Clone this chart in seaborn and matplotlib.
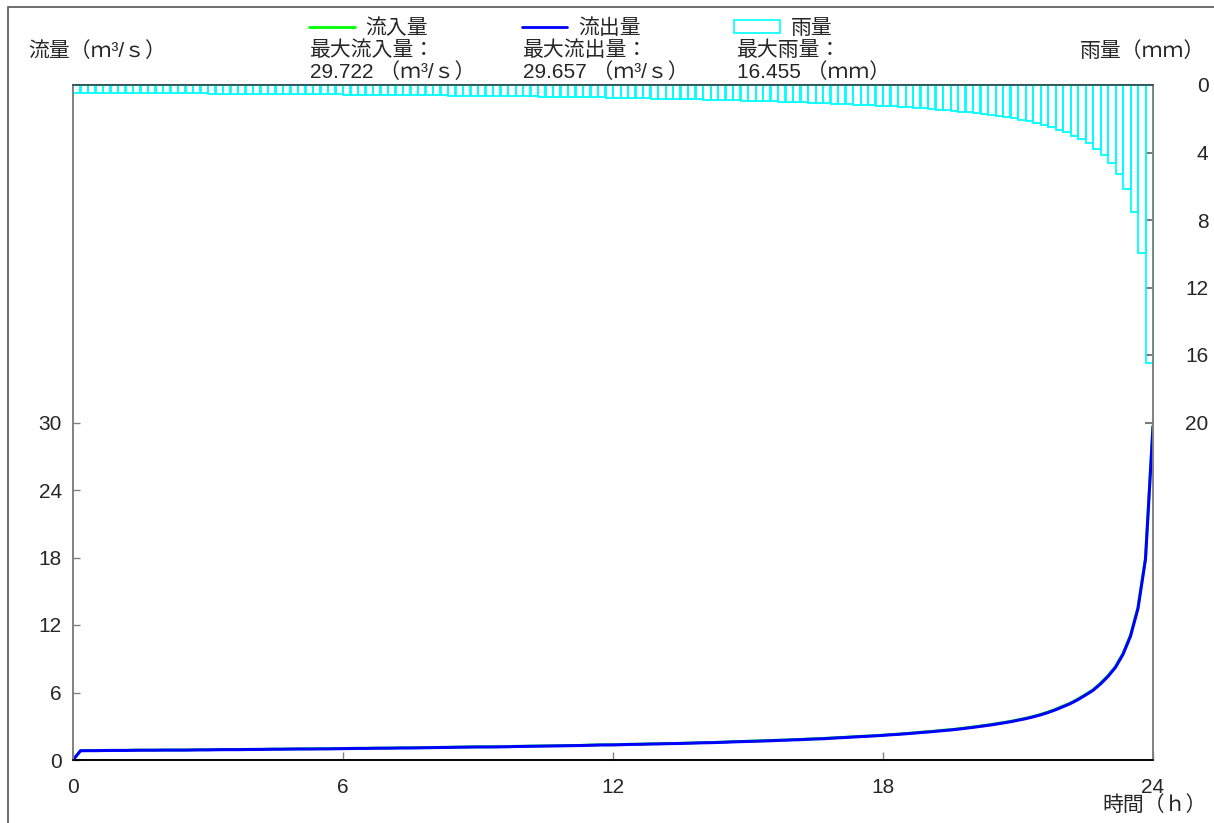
import numpy as np
import pandas as pd
import seaborn as sns
import matplotlib.pyplot as plt
from matplotlib.lines import Line2D
from matplotlib.patches import Rectangle

# rainfall per 10 min step (mm), 144 steps over 24 h
rain_mm = [0.46, 0.46, 0.46, 0.47, 0.47, 0.47, 0.47, 0.48, 0.48, 0.48, 0.48, 0.49, 0.49, 0.49,
           0.49, 0.50, 0.50, 0.50, 0.51, 0.51, 0.51, 0.51, 0.52, 0.52,
           0.52, 0.53, 0.53, 0.53, 0.54, 0.54, 0.54, 0.55, 0.55, 0.55,
           0.56, 0.56, 0.57, 0.57, 0.57, 0.58, 0.58, 0.58, 0.59, 0.59,
           0.60, 0.60, 0.61, 0.61, 0.62, 0.62, 0.63, 0.63, 0.64, 0.64,
           0.64, 0.65, 0.65, 0.66, 0.67, 0.67, 0.68, 0.68, 0.69, 0.70,
           0.70, 0.71, 0.71, 0.72, 0.73, 0.74, 0.74, 0.75, 0.76, 0.77,
           0.77, 0.78, 0.79, 0.80, 0.81, 0.81, 0.82, 0.83, 0.84, 0.85,
           0.86, 0.87, 0.88, 0.90, 0.91, 0.92, 0.93, 0.94, 0.96, 0.97,
           0.98, 1.00, 1.01, 1.03, 1.04, 1.06, 1.08, 1.10, 1.12, 1.14,
           1.16, 1.18, 1.20, 1.22, 1.25, 1.27, 1.30, 1.33, 1.36, 1.39,
           1.42, 1.46, 1.49, 1.53, 1.58, 1.62, 1.67, 1.72, 1.78, 1.84,
           1.90, 1.97, 2.05, 2.14,
           2.24, 2.36, 2.49, 2.65, 2.80, 3.00, 3.22, 3.45, 3.78, 4.15, 4.60, 5.25, 6.15, 7.52, 9.95, 16.455]

# flows (m3/s) at t = 0, 10, 20 ... 1440 min
inflow = [0.0,
          0.84, 0.84, 0.84, 0.86, 0.86, 0.86, 0.86, 0.88, 0.88, 0.88, 0.88, 0.89, 0.89, 0.89,
          0.89, 0.91, 0.91, 0.91, 0.93, 0.93, 0.93, 0.93, 0.95, 0.95,
          0.95, 0.97, 0.97, 0.97, 0.99, 0.99, 0.99, 1.00, 1.00, 1.00,
          1.02, 1.02, 1.04, 1.04, 1.04, 1.06, 1.06, 1.06, 1.08, 1.08,
          1.09, 1.09, 1.11, 1.11, 1.13, 1.13, 1.15, 1.15, 1.17, 1.17,
          1.17, 1.18, 1.18, 1.20, 1.22, 1.22, 1.24, 1.24, 1.26, 1.27,
          1.27, 1.29, 1.29, 1.31, 1.33, 1.35, 1.35, 1.36, 1.38, 1.40,
          1.40, 1.42, 1.44, 1.45, 1.47, 1.47, 1.49, 1.51, 1.53, 1.55,
          1.56, 1.58, 1.60, 1.64, 1.65, 1.67, 1.69, 1.71, 1.74, 1.76,
          1.78, 1.82, 1.83, 1.87, 1.89, 1.92, 1.96, 2.00, 2.03, 2.07,
          2.10, 2.14, 2.18, 2.21, 2.27, 2.30, 2.36, 2.41, 2.47, 2.52,
          2.57, 2.65, 2.70, 2.77, 2.86, 2.94, 3.03, 3.12, 3.22, 3.33,
          3.44, 3.57, 3.71, 3.87,
          4.06, 4.27, 4.51, 4.80, 5.07, 5.43, 5.83, 6.24, 6.84, 7.50, 8.32, 9.49, 11.12, 13.59, 17.98, 29.722]

outflow = [0.0,
           0.82, 0.83, 0.83, 0.84, 0.85, 0.85, 0.85, 0.86, 0.87, 0.87, 0.87, 0.88, 0.88, 0.88,
           0.88, 0.89, 0.90, 0.90, 0.91, 0.92, 0.92, 0.92, 0.93, 0.94,
           0.94, 0.95, 0.96, 0.96, 0.97, 0.98, 0.98, 0.98, 0.99, 0.99,
           1.00, 1.01, 1.02, 1.03, 1.03, 1.04, 1.05, 1.05, 1.06, 1.07,
           1.07, 1.08, 1.09, 1.10, 1.11, 1.12, 1.13, 1.14, 1.15, 1.16,
           1.16, 1.16, 1.17, 1.18, 1.20, 1.21, 1.22, 1.23, 1.24, 1.25,
           1.26, 1.27, 1.28, 1.29, 1.31, 1.33, 1.34, 1.34, 1.36, 1.38,
           1.39, 1.40, 1.42, 1.43, 1.45, 1.46, 1.47, 1.49, 1.51, 1.53,
           1.54, 1.56, 1.58, 1.61, 1.63, 1.65, 1.67, 1.69, 1.71, 1.74,
           1.76, 1.79, 1.81, 1.84, 1.87, 1.89, 1.93, 1.97, 2.00, 2.04,
           2.08, 2.11, 2.15, 2.19, 2.24, 2.28, 2.33, 2.38, 2.44, 2.49,
           2.55, 2.61, 2.67, 2.74, 2.82, 2.90, 2.99, 3.08, 3.18, 3.29,
           3.40, 3.53, 3.67, 3.83,
           4.01, 4.22, 4.46, 4.74, 5.02, 5.37, 5.77, 6.19, 6.76, 7.43, 8.24, 9.39, 11.00, 13.48, 17.85, 29.657]

max_labels = ['最大流入量：', '最大流出量：', '最大雨量：']
max_values = ['29.722 （ｍ³/ｓ）', '29.657 （ｍ³/ｓ）', '16.455 （ｍｍ）']
series_names = ['流入量', '流出量', '雨量']

assert len(rain_mm) == 144 and len(inflow) == 145 and len(outflow) == 145

time_h = np.arange(len(inflow)) / 6.0
rain_mid = (np.arange(len(rain_mm)) + 0.5) / 6.0

flow_df = pd.DataFrame({'時間': time_h, '流入量': inflow, '流出量': outflow})
rain_df = pd.DataFrame({'時間': rain_mid, '雨量': rain_mm})

sns.set_theme(style="white")
plt.rcParams['font.family'] = ['Liberation Sans', 'Noto Sans CJK JP']
plt.rcParams['axes.unicode_minus'] = False

FS = 15
W, H = 1214, 823
fig = plt.figure(figsize=(W / 100, H / 100), dpi=100)
ax = fig.add_axes([73 / W, 1 - 760 / H, 1080 / W, 675 / H])
ax2 = ax.twinx()

# rainfall bars hanging from the top (right axis, inverted)
sns.barplot(data=rain_df, x='時間', y='雨量', native_scale=True, width=1.0,
            fill=False, color='#00FFFF', linewidth=1.3, errorbar=None, ax=ax2)

# hydrographs
sns.lineplot(data=flow_df, x='時間', y='流入量', color='#00FF00', lw=2.0, ax=ax)
sns.lineplot(data=flow_df, x='時間', y='流出量', color='#0000FF', lw=2.2, ax=ax)

ax.set_xlim(0, 24)
ax.set_ylim(0, 60)
ax.set_xticks([0, 6, 12, 18, 24])
ax.set_yticks([0, 6, 12, 18, 24, 30])
ax.set_xlabel('')
ax.set_ylabel('')
ax2.set_ylim(40, 0)
ax2.set_yticks([0, 4, 8, 12, 16, 20])
ax2.set_xlim(0, 24)
ax2.set_xlabel('')
ax2.set_ylabel('')

ax.tick_params(axis='x', bottom=True, direction='in', length=6, width=1,
               color='#808080', pad=13, labelsize=FS)
ax.tick_params(axis='y', left=True, direction='in', length=5, width=1,
               color='#808080', pad=8, labelsize=FS)
ax2.tick_params(axis='y', right=True, direction='in', length=6, width=1.2,
                color='#606060', pad=40, labelsize=FS)
for lbl in ax2.get_yticklabels():
    lbl.set_horizontalalignment('right')

spine_colors = {'left': '#808080', 'bottom': 'black', 'top': '#2F4F4F', 'right': '#808080'}
for a in (ax, ax2):
    for side, c in spine_colors.items():
        a.spines[side].set_color(c)
        a.spines[side].set_linewidth(1.2)

# legend row
handles = [Line2D([], [], color='#00FF00', lw=2),
           Line2D([], [], color='#0000FF', lw=2),
           Rectangle((0, 0), 1, 1, facecolor='white', edgecolor='#00FFFF', lw=1.2)]
fig.legend(handles, series_names, loc='center left', bbox_to_anchor=(309 / W, 1 - 28 / H),
           ncol=3, frameon=False, fontsize=FS, borderpad=0, borderaxespad=0,
           handlelength=2.2, handleheight=0.55, handletextpad=0.5, columnspacing=4.5)

col_x = [310, 523, 737]
for x, lab, val in zip(col_x, max_labels, max_values):
    fig.text(x / W, 1 - 50 / H, lab, fontsize=FS, va='center', ha='left')
    fig.text(x / W, 1 - 72 / H, val, fontsize=FS, va='center', ha='left')

fig.text(28 / W, 1 - 51 / H, '流量（ｍ³/ｓ）', fontsize=FS, va='center', ha='left')
fig.text(1205 / W, 1 - 51 / H, '雨量（ｍｍ）', fontsize=FS, va='center', ha='right')
fig.text(1155 / W, 1 - 805 / H, '時間（ｈ）', fontsize=FS, va='center', ha='center')

# outer frame
fig.patches.append(Rectangle((8 / W, -0.05), 1.1, 1 - 7 / H + 0.05, transform=fig.transFigure,
                             fill=False, edgecolor='#555555', lw=1.2))

fig.savefig('out.png', dpi=100)
